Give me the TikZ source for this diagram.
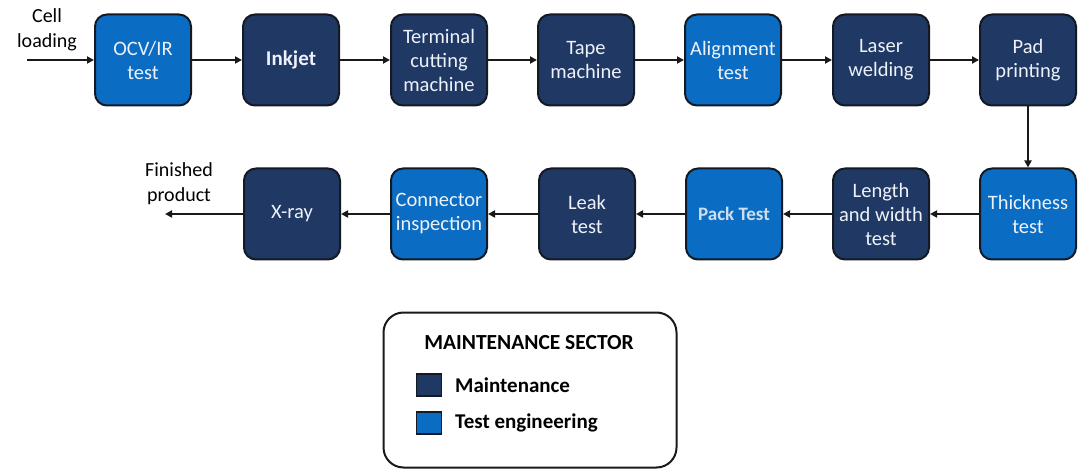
\documentclass[tikz,border=0pt]{standalone}
\usepackage{fontspec}
\setmainfont{Carlito}
\usetikzlibrary{arrows.meta}
\definecolor{navy}{HTML}{1F3864}
\definecolor{testblue}{HTML}{0A6CC2}
\definecolor{boxedge}{HTML}{141A24}
\definecolor{boxtext}{HTML}{EEF2F8}
\tikzset{
  stage/.style={draw=boxedge, line width=2pt, rounded corners=12pt,
    minimum width=96pt, minimum height=91pt, align=center, text=boxtext,
    font=\fontsize{20.5}{24}\selectfont},
  maint/.style={stage, fill=navy},
  testeng/.style={stage, fill=testblue},
  flow/.style={line width=2pt, draw=black!90, -{Triangle[length=7pt,width=7pt]}},
  plain/.style={font=\fontsize{20}{25}\selectfont, align=center, text=black},
  swatch/.style={draw=boxedge, line width=1.5pt, minimum width=25pt, minimum height=22pt, inner sep=0pt},
  legtext/.style={font=\bfseries\fontsize{21}{24}\selectfont, anchor=west, text=black, inner sep=0pt}
}
\begin{document}
\begin{tikzpicture}[x=1pt,y=-1pt]
\useasboundingbox (0,0) rectangle (1078,470);
% top row (left to right)
\node[testeng] (ocv) at (143,60) {OCV/IR\\test};
\node[maint, font=\bfseries\fontsize{21}{24}\selectfont] (ink) at (291,60) {Inkjet};
\node[maint] (term) at (439,60) {Terminal\\cutting\\machine};
\node[maint] (tape) at (586,60) {Tape\\machine};
\node[testeng] (align) at (733,60) {Alignment\\test};
\node[maint] (laser) at (881,60) {Laser\\welding};
\node[maint] (pad) at (1028,60) {Pad\\printing};
% bottom row (right to left)
\node[testeng] (thick) at (1028,214) {Thickness\\test};
\node[maint] (len) at (881,214) {Length\\and width\\test};
\node[testeng, font=\bfseries\fontsize{19}{24}\selectfont, text=boxtext!85!testblue] (pack) at (734,214) {Pack Test};
\node[maint] (leak) at (587,214) {Leak\\test};
\node[testeng] (conn) at (439,214) {Connector\\inspection};
\node[maint] (xray) at (292,214) {X-ray};
% inlet and outlet
\coordinate (in) at (27,60);
\coordinate (out) at (165,214);
\node[plain] (cell) at (47,30) {Cell\\loading};
\node[plain] (fin) at (179,184) {Finished\\product};
% flow connectors
\draw[flow] (in) -- (ocv);
\draw[flow] (ocv) -- (ink);
\draw[flow] (ink) -- (term);
\draw[flow] (term) -- (tape);
\draw[flow] (tape) -- (align);
\draw[flow] (align) -- (laser);
\draw[flow] (laser) -- (pad);
\draw[flow] (pad) -- (thick);
\draw[flow] (thick) -- (len);
\draw[flow] (len) -- (pack);
\draw[flow] (pack) -- (leak);
\draw[flow] (leak) -- (conn);
\draw[flow] (conn) -- (xray);
\draw[flow] (xray) -- (out);
% legend
\node[draw=black!90, line width=2pt, rounded corners=20pt, minimum width=293pt, minimum height=155pt] (legend) at (530,390) {};
\node[font=\bfseries\fontsize{21.5}{24}\selectfont] (ltitle) at (529,343) {MAINTENANCE SECTOR};
\node[swatch, fill=navy] (sw1) at (429,385) {};
\node[swatch, fill=testblue] (sw2) at (429,423) {};
\node[legtext] (l1) at (455,385) {Maintenance};
\node[legtext] (l2) at (455,423) {Test engineering};
\end{tikzpicture}
\end{document}
